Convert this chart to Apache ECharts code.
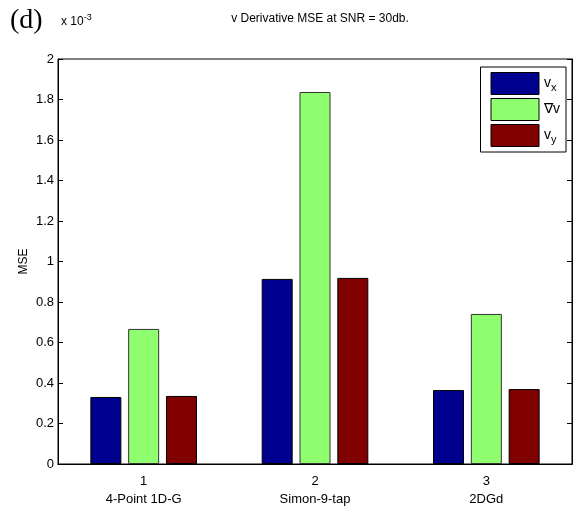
<!DOCTYPE html>
<html><head><meta charset="utf-8">
<script src="https://cdn.jsdelivr.net/npm/echarts@6/dist/echarts.min.js"></script>
<style>html,body{margin:0;padding:0;background:#fff}#c{width:587px;height:510px}</style>
</head><body><div id="c"></div>
<script>
const tickLabels = ['1', '2', '3'];
const categories = ['4-Point 1D-G', 'Simon-9-tap', '2DGd'];
const seriesNames = ['vx', '∇v', 'vy'];
const vx = [0.331, 0.914, 0.365];
const gradV = [0.667, 1.837, 0.741];
const vy = [0.336, 0.919, 0.370];
const yTicks = [0, 0.2, 0.4, 0.6, 0.8, 1, 1.2, 1.4, 1.6, 1.8, 2];

const colors = ['#00008F', '#8FFF6F', '#800000'];
const font = 'Liberation Sans, Arial, sans-serif';
const chart = echarts.init(document.getElementById('c'));
const values = [vx, gradV, vy];
chart.setOption({
  animation: false,
  title: [
    { text: '(d)', left: 5, top: 2, textStyle: { fontFamily: 'Liberation Serif, serif', fontSize: 28, fontWeight: 'normal', color: '#000' } },
    { text: 'v Derivative MSE at SNR = 30db.', left: 315, textAlign: 'center', top: 8, textStyle: { fontFamily: font, fontSize: 12, fontWeight: 'normal', color: '#000' } },
    { text: 'x 10{sup|-3}', left: 56, top: 8, textStyle: { fontFamily: font, fontSize: 12, fontWeight: 'normal', color: '#000', rich: { sup: { fontSize: 9, verticalAlign: 'top', padding: [0, 0, 8, 0], fontFamily: font, color: '#000' } } } }
  ],
  legend: {
    orient: 'vertical', right: 21, top: 67,
    data: seriesNames.map(function (n) { return { name: n, icon: 'rect' }; }),
    itemWidth: 48, itemHeight: 22, itemGap: 3,
    borderColor: '#000', borderWidth: 1, padding: [5, 6, 5, 10],
    backgroundColor: '#fff',
    textStyle: { fontFamily: font, fontSize: 14, color: '#000',
      rich: { sub: { fontSize: 11, verticalAlign: 'bottom', padding: [8, 0, 0, 0], fontFamily: font, color: '#000' }, n: { fontSize: 14, fontFamily: font, color: '#000' } } },
    formatter: function (n) {
      if (n === 'vx') return '{n|v}{sub|x}';
      if (n === 'vy') return '{n|v}{sub|y}';
      return '{n|' + n + '}';
    },
    itemStyle: { borderColor: '#000', borderWidth: 1 }
  },
  grid: { left: 58, right: 15, top: 59, bottom: 46, show: true, borderColor: '#000', borderWidth: 1 },
  xAxis: [
    { type: 'category', data: tickLabels, position: 'bottom',
      axisLine: { lineStyle: { color: '#000' } },
      axisTick: { alignWithLabel: true, inside: true, length: 5, lineStyle: { color: '#000' } },
      axisLabel: { color: '#000', fontFamily: font, fontSize: 13, lineHeight: 18, margin: 8,
        formatter: function (v, i) { return v + '\n' + categories[i]; } } },
    { type: 'category', data: tickLabels, position: 'top',
      axisLine: { lineStyle: { color: '#000' } },
      axisTick: { alignWithLabel: true, inside: true, length: 5, lineStyle: { color: '#000' } },
      axisLabel: { show: false } }
  ],
  yAxis: [
    { type: 'value', min: 0, max: 2, interval: 0.2, name: 'MSE', nameLocation: 'middle', nameGap: 28, nameRotate: 90,
      nameMoveOverlap: false,
      nameTextStyle: { color: '#000', fontFamily: font, fontSize: 12 },
      axisLine: { show: true, lineStyle: { color: '#000' } },
      axisTick: { show: true, inside: true, length: 5, lineStyle: { color: '#000' } },
      splitLine: { show: false },
      axisLabel: { color: '#000', fontFamily: font, fontSize: 13, margin: 4,
        formatter: function (v) { return String(+v.toFixed(1)); } } },
    { type: 'value', min: 0, max: 2, interval: 0.2, position: 'right',
      axisLine: { show: true, lineStyle: { color: '#000' } },
      axisTick: { show: true, inside: true, length: 5, lineStyle: { color: '#000' } },
      splitLine: { show: false }, axisLabel: { show: false } }
  ],
  series: seriesNames.map(function (n, k) {
    return { name: n, type: 'bar', data: values[k], barWidth: 31, barGap: '22%',
      itemStyle: { color: colors[k], borderColor: k === 1 ? '#333' : '#000', borderWidth: 1 } };
  })
});
</script></body></html>
